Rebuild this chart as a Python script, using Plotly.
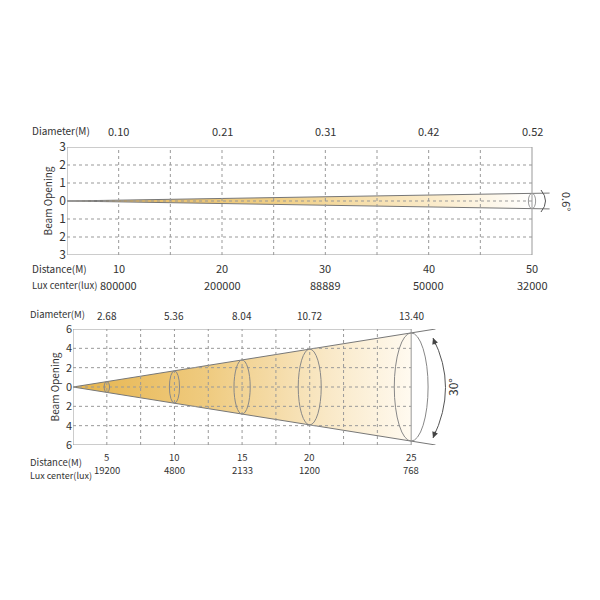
import plotly.graph_objects as go

# top chart: narrow 0.6 degree beam
top_dist = [10, 20, 30, 40, 50]
top_diam = ["0.10", "0.21", "0.31", "0.42", "0.52"]
top_lux = ["800000", "200000", "88889", "50000", "32000"]
top_beam_x = [5, 51.7]
top_beam_half = [0.0, 0.44]

# bottom chart: 30 degree beam (label slots as drawn)
bot_pos = [2.5, 7.5, 12.5, 17.5, 25]
bot_dist = ["5", "10", "15", "20", "25"]
bot_diam = ["2.68", "5.36", "8.04", "10.72", "13.40"]
bot_lux = ["19200", "4800", "2133", "1200", "768"]
bot_beam_x = [0, 26.8]
bot_beam_half = [0.0, 6.0]
bot_ell_w = [0.4, 0.75, 1.2, 1.7, 2.5]

fig = go.Figure()
txt = "#333"
font = "Noto Sans CJK SC"
shapes, ann = [], []


def half_at(xs, half, x):
    return half[0] + (half[1] - half[0]) * (x - xs[0]) / (xs[1] - xs[0])


def beam(xs, half, xend, xa, ya, scale):
    he = half_at(xs, half, xend)
    fig.add_trace(go.Scatter(
        x=[xs[0], xend, xend, xs[0], xs[0]],
        y=[half[0], he, -he, -half[0], half[0]],
        xaxis=xa, yaxis=ya, mode="none", fill="toself",
        fillgradient=dict(type="horizontal", colorscale=scale),
        hoverinfo="skip", showlegend=False))
    fig.add_trace(go.Scatter(
        x=[xs[1], xs[0], xs[1]], y=[half[1], half[0], -half[1]],
        xaxis=xa, yaxis=ya, mode="lines", line=dict(color="#777", width=1),
        hoverinfo="skip", showlegend=False))


def frame(xref, yref, x0, x1, y0, y1, xgrid, ygrid):
    for g in xgrid:
        shapes.append(dict(type="line", xref=xref, yref=yref, x0=g, x1=g, y0=y0, y1=y1,
                           line=dict(color="#999", width=1, dash="dot"), layer="above"))
    for g in ygrid:
        shapes.append(dict(type="line", xref=xref, yref=yref, x0=x0, x1=x1, y0=g, y1=g,
                           line=dict(color="#999", width=1, dash="dot"), layer="above"))
    shapes.append(dict(type="rect", xref=xref, yref=yref, x0=x0, x1=x1, y0=y0, y1=y1,
                       line=dict(color="#999", width=1), layer="above"))


def label(t, xp, yp, size=10, angle=0, xanchor="left"):
    ann.append(dict(x=xp / 600, y=1 - yp / 600, xref="paper", yref="paper", xanchor=xanchor,
                    yanchor="middle", text=t, textangle=angle, showarrow=False,
                    font=dict(size=size, color=txt)))


# ---- top ----
beam(top_beam_x, top_beam_half, 50, "x", "y",
     [[0, "#e2b45a"], [0.45, "#f0cf86"], [0.8, "#fbeccc"], [1, "#ffffff"]])
frame("x", "y", 5, 50, -3, 3, [10, 15, 20, 25, 30, 35, 40, 45], [-2, -1, 0, 1, 2])
h = half_at(top_beam_x, top_beam_half, 50)
shapes.append(dict(type="circle", xref="x", yref="y", x0=49.65, x1=50.35, y0=-h, y1=h,
                   line=dict(color="#999", width=1)))
for i, d in enumerate(top_dist):
    ann.append(dict(x=d, y=3, xref="x", yref="y", yshift=16, text=top_diam[i], showarrow=False,
                    font=dict(size=11, color=txt)))
    ann.append(dict(x=d, y=-3, xref="x", yref="y", yshift=-13, text=str(d), showarrow=False,
                    font=dict(size=11, color=txt)))
    ann.append(dict(x=d, y=-3, xref="x", yref="y", yshift=-30, text=top_lux[i], showarrow=False,
                    font=dict(size=11, color=txt)))
label("Diameter(M)", 30, 130)
label("Distance(M)", 30, 268)
label("Lux center(lux)", 30, 285, size=9.5)
label("0.6°", 567, 201, size=11, angle=90, xanchor="center")
shapes.append(dict(type="path", xref="paper", yref="paper",
                   path=f"M {541/600} {1-190/600} Q {550/600} {1-201/600} {541/600} {1-212/600}",
                   line=dict(color="#555", width=1)))

# ---- bottom ----
beam(bot_beam_x, bot_beam_half, 25, "x2", "y2",
     [[0, "#e6b44c"], [0.4, "#efcb80"], [0.75, "#f9e8c6"], [1, "#fffaf0"]])
frame("x2", "y2", 0, 25, -6, 6, [2.5, 5, 7.5, 10, 12.5, 15, 17.5, 20, 22.5], [-4, -2, 0, 2, 4])
for i, p in enumerate(bot_pos):
    hh = half_at(bot_beam_x, bot_beam_half, p)
    w = bot_ell_w[i] / 2
    shapes.append(dict(type="circle", xref="x2", yref="y2", x0=p - w, x1=p + w, y0=-hh, y1=hh,
                       line=dict(color="#888", width=1)))
    ann.append(dict(x=p, y=6, xref="x2", yref="y2", yshift=14, text=bot_diam[i], showarrow=False,
                    font=dict(size=10, color=txt)))
    ann.append(dict(x=p, y=-6, xref="x2", yref="y2", yshift=-12, text=bot_dist[i], showarrow=False,
                    font=dict(size=9.5, color=txt)))
    ann.append(dict(x=p, y=-6, xref="x2", yref="y2", yshift=-25, text=bot_lux[i], showarrow=False,
                    font=dict(size=9.5, color=txt)))
label("Diameter(M)", 28, 314, size=9.5)
label("Distance(M)", 28, 462, size=9.5)
label("Lux center(lux)", 28, 475, size=9)
label("30°", 452, 387, size=12, angle=-90, xanchor="center")
shapes.append(dict(type="path", xref="paper", yref="paper",
                   path=f"M {433/600} {1-338/600} Q {458/600} {1-387/600} {433/600} {1-438/600}",
                   line=dict(color="#555", width=1)))
for ax_, ay_, x_, y_ in [(3, 8, 433, 338), (3, -8, 433, 438)]:
    ann.append(dict(x=x_ / 600, y=1 - y_ / 600, xref="paper", yref="paper", ax=ax_, ay=ay_,
                    text="", showarrow=True, arrowhead=2, arrowsize=1, arrowwidth=1.2,
                    arrowcolor="#444"))

ycommon = dict(showgrid=False, zeroline=False, showline=False, ticks="", automargin=False,
               title_font=dict(size=10, color=txt))
fig.update_layout(
    width=600, height=600, margin=dict(l=0, r=0, t=0, b=0, autoexpand=False),
    paper_bgcolor="white", plot_bgcolor="white", font=dict(family=font),
    xaxis=dict(domain=[67 / 600, 563 / 600], range=[5, 53], visible=False, automargin=False),
    yaxis=dict(domain=[1 - 255 / 600, 1 - 147 / 600], range=[-3, 3],
               tickvals=[-3, -2, -1, 0, 1, 2, 3], ticktext=["3", "2", "1", "0", "1", "2", "3"],
               tickfont=dict(size=12, color=txt),
               title=dict(text="Beam Opening", standoff=4), **ycommon),
    xaxis2=dict(domain=[73 / 600, 445 / 600], range=[0, 27.5], visible=False, anchor="y2",
                automargin=False),
    yaxis2=dict(domain=[1 - 445 / 600, 1 - 329 / 600], range=[-6, 6], anchor="x2",
                tickvals=[-6, -4, -2, 0, 2, 4, 6], ticktext=["6", "4", "2", "0", "2", "4", "6"],
                tickfont=dict(size=11, color=txt),
                title=dict(text="Beam Opening", standoff=4), **ycommon),
    shapes=shapes, annotations=ann,
)
fig.write_html("out.html", config={"displayModeBar": False},
               post_script="document.body.style.margin='0';")
